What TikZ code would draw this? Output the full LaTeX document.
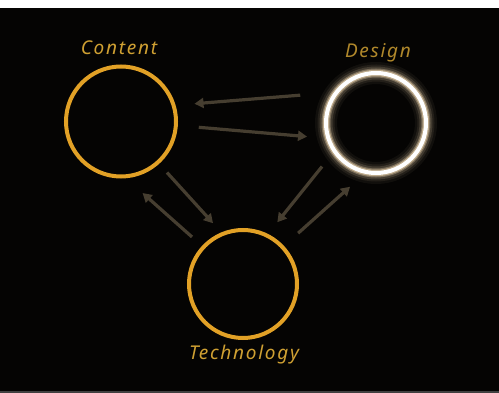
\documentclass[tikz,border=0pt]{standalone}
\usepackage{fontspec}
\setmainfont{Noto Sans}
\usetikzlibrary{arrows.meta}
\definecolor{bg}{HTML}{050403}
\definecolor{ring}{HTML}{E2A126}
\definecolor{lbl}{HTML}{CFA032}
\definecolor{arrcol}{HTML}{463E30}
\definecolor{glowcol}{HTML}{FFE6BC}
\begin{document}
\begin{tikzpicture}[x=1pt,y=-1pt,
  ringnode/.style={circle,draw=ring,line width=4pt,inner sep=0pt,outer sep=0pt,minimum size=#1},
  plainnode/.style={circle,inner sep=0pt,outer sep=0pt,minimum size=#1},
  lblnode/.style={text=lbl,font=\itshape\fontsize{19}{19}\selectfont\addfontfeature{LetterSpace=9},inner sep=0pt},
  conn/.style={draw=arrcol,line width=3.2pt,-{Triangle[length=9pt,width=10pt]}}]
\useasboundingbox (0,0) rectangle (499,393);
\fill[white] (0,0) rectangle (499,393);
\fill[bg] (0,8) rectangle (499,391);
\fill[black!75] (0,391) rectangle (499,393);

\node[ringnode=110pt] (content) at (121,121.5) {};
\node[plainnode=100pt] (design) at (376,123) {};
\node[ringnode=108pt] (tech) at (243,284) {};

\foreach \w/\o in {22/0.05,17/0.08,13/0.14,9/0.3,6.5/0.5}
  \draw[glowcol,line width=\w pt,opacity=\o] (design.center) circle (50pt);
\draw[white,line width=4pt] (design.center) circle (50pt);

\node[lblnode] (lc) at (119,48) {Content};
\node[lblnode,text=lbl!85!black] (ld) at (378,53) {Design};
\node[lblnode] (lt) at (244,355) {Technology};

\draw[conn,shorten <=36.5pt,shorten >=21pt] (design.142) -- (content.17);
\draw[conn,shorten <=23pt,shorten >=21.5pt] (content.-4) -- (design.198.6);
\draw[conn,shorten <=13.7pt,shorten >=14.5pt] (content.-48) -- (tech.112);
\draw[conn,shorten <=15.4pt,shorten >=25pt] (tech.137) -- (content.-87);
\draw[conn,shorten <=20pt,shorten >=17pt] (design.214.6) -- (tech.64);
\draw[conn,shorten <=21pt,shorten >=22pt] (tech.43) -- (design.259);
\end{tikzpicture}
\end{document}
